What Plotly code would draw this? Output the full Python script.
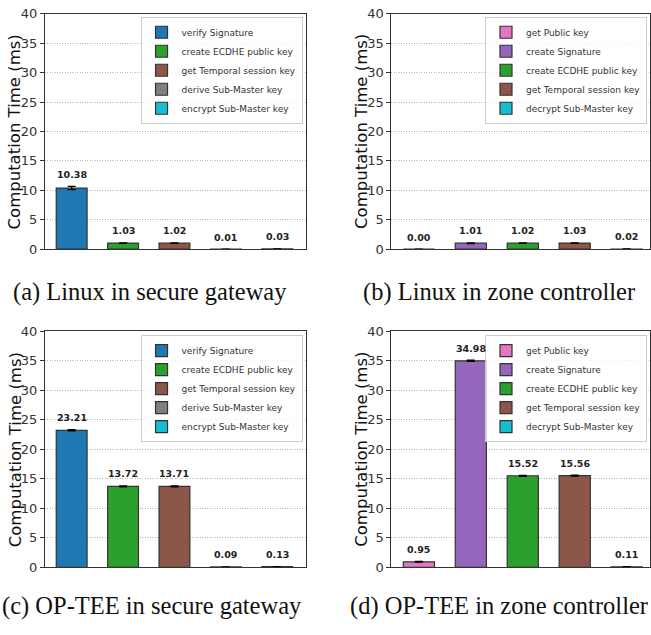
import plotly.graph_objects as go

# ---------------- data ----------------
cats_gw = ["verify Signature", "create ECDHE public key", "get Temporal session key",
           "derive Sub-Master key", "encrypt Sub-Master key"]
colors_gw = ["#1f77b4", "#2ca02c", "#8c564b", "#7f7f7f", "#17becf"]
cats_zc = ["get Public key", "create Signature", "create ECDHE public key",
           "get Temporal session key", "decrypt Sub-Master key"]
colors_zc = ["#e377c2", "#9467bd", "#2ca02c", "#8c564b", "#17becf"]

linux_gw = [10.38, 1.03, 1.02, 0.01, 0.03]
linux_gw_err = [0.28, 0.05, 0.05, 0.005, 0.01]
linux_zc = [0.00, 1.01, 1.02, 1.03, 0.02]
linux_zc_err = [0.003, 0.05, 0.05, 0.05, 0.005]
optee_gw = [23.21, 13.72, 13.71, 0.09, 0.13]
optee_gw_err = [0.10, 0.08, 0.08, 0.01, 0.01]
optee_zc = [0.95, 34.98, 15.52, 15.56, 0.11]
optee_zc_err = [0.06, 0.10, 0.08, 0.08, 0.01]

captions = ["(a) Linux in secure gateway", "(b) Linux in zone controller",
            "(c) OP-TEE in secure gateway", "(d) OP-TEE in zone controller"]
y_ticks = [0, 5, 10, 15, 20, 25, 30, 35, 40]
y_title = "Computation Time (ms)"

W, H = 651, 635
panels = [
    dict(cats=cats_gw, cols=colors_gw, vals=linux_gw, errs=linux_gw_err,
         px=(45, 306), py=(7, 248), xr=[-0.52, 4.55], leg=(303, 10), cap=(150, 292)),
    dict(cats=cats_zc, cols=colors_zc, vals=linux_zc, errs=linux_zc_err,
         px=(392, 651), py=(7, 248), xr=[-0.53, 4.45], leg=(648, 10), cap=(500, 292)),
    dict(cats=cats_gw, cols=colors_gw, vals=optee_gw, errs=optee_gw_err,
         px=(45, 306), py=(332, 574), xr=[-0.52, 4.55], leg=(303, 336), cap=(152, 613)),
    dict(cats=cats_zc, cols=colors_zc, vals=optee_zc, errs=optee_zc_err,
         px=(392, 651), py=(332, 574), xr=[-0.53, 4.45], leg=(648, 336), cap=(500, 613)),
]

fig = go.Figure()
annotations = []
FONT = "DejaVu Sans"
DARK = "#333333"

for k, p in enumerate(panels):
    n = k + 1
    sfx = "" if n == 1 else str(n)
    legname = "legend" + sfx
    for i, (c, col, v, e) in enumerate(zip(p["cats"], p["cols"], p["vals"], p["errs"])):
        fig.add_trace(go.Bar(
            x=[i], y=[v], width=0.6, name=c,
            marker=dict(color=col, line=dict(color=DARK, width=1.2)),
            error_y=dict(type="data", array=[e], color="black", thickness=1.3, width=4),
            xaxis="x" + sfx, yaxis="y" + sfx, legend=legname, showlegend=True,
        ))
        annotations.append(dict(
            x=i, y=v + e, xref="x" + sfx, yref="y" + sfx, text="<b>%.2f</b>" % v,
            showarrow=False, yanchor="middle", yshift=12,
            font=dict(family=FONT, size=9.5, color="#222222")))
    x0, x1 = p["px"]
    y0, y1 = p["py"]
    fig.update_layout(**{
        "xaxis" + sfx: dict(domain=[x0 / W, min(x1 / W, 1.0)], range=p["xr"],
                            anchor="y" + sfx, showticklabels=False, ticks="",
                            showgrid=False, zeroline=False, showline=True,
                            linecolor=DARK, linewidth=1.2, mirror=True),
        "yaxis" + sfx: dict(domain=[1 - y1 / H, 1 - y0 / H], range=[0, 40],
                            anchor="x" + sfx, tickvals=y_ticks, ticks="outside",
                            ticklen=4, tickwidth=1, tickcolor=DARK,
                            tickfont=dict(family=FONT, size=13, color=DARK),
                            showgrid=True, gridcolor="#b4b4b4", griddash="1px,1.5px",
                            gridwidth=1, zeroline=False, showline=True,
                            linecolor=DARK, linewidth=1.2, mirror=True),
        legname: dict(x=p["leg"][0] / W, y=1 - p["leg"][1] / H, xanchor="right",
                      yanchor="top", xref="paper", yref="paper",
                      bgcolor="rgba(255,255,255,0.8)", bordercolor="#cccccc",
                      borderwidth=1, font=dict(family=FONT, size=9, color=DARK),
                      tracegroupgap=0),
    })
    # y-axis title
    annotations.append(dict(
        x=(x0 - 30) / W, y=1 - ((y0 + y1) / 2) / H, xref="paper", yref="paper",
        text=y_title, textangle=-90, showarrow=False, xanchor="center",
        yanchor="middle", font=dict(family=FONT, size=16.5, color="#111111")))
    # caption
    annotations.append(dict(
        x=p["cap"][0] / W, y=1 - p["cap"][1] / H, xref="paper", yref="paper",
        text=captions[k], showarrow=False, xanchor="center", yanchor="middle",
        font=dict(family="Liberation Serif", size=24.5, color="#111111")))

fig.update_layout(
    width=W, height=H, margin=dict(l=0, r=0, t=0, b=0),
    paper_bgcolor="white", plot_bgcolor="white", barmode="overlay",
    annotations=annotations, showlegend=True,
)

fig.write_html("out.html", config={"displayModeBar": False},
               post_script="document.body.style.margin='0';")
